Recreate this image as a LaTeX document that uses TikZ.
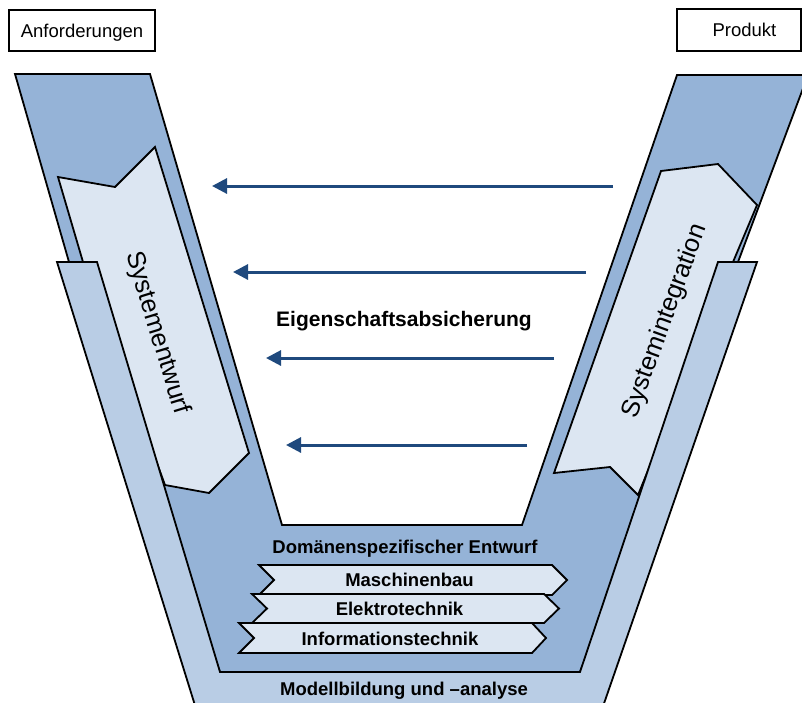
\documentclass[tikz,border=0pt]{standalone}
\usepackage{fontspec}
\setmainfont{Liberation Sans}
\usetikzlibrary{arrows.meta}
\definecolor{bandmid}{HTML}{95B3D7}
\definecolor{bandouter}{HTML}{B9CDE5}
\definecolor{boxpale}{HTML}{DCE6F2}
\definecolor{flowblue}{HTML}{1F497D}
\begin{document}
\begin{tikzpicture}[x=1pt,y=-1pt,
  outline/.style={draw=black,line width=1.8pt,line join=miter},
  labelbox/.style={draw=black,line width=1.8pt,fill=white,inner sep=0pt,
    text height=13.3pt,text depth=0.3pt,font=\fontsize{18.5}{22}\selectfont},
  domaintext/.style={anchor=base,inner sep=0pt,font=\fontsize{18.5}{22}\selectfont\bfseries},
  phasetext/.style={inner sep=0pt,font=\fontsize{25.5}{30}\selectfont},
  checkarrow/.style={draw=flowblue,line width=3pt,-{Triangle[length=15pt,width=15pt]}}]
\useasboundingbox (0,0) rectangle (802,702);
\begin{scope}
\clip (0,0) rectangle (802,702);
% middle V band
\filldraw[fill=bandmid,outline] (15,74) -- (150,74) -- (282,525) -- (522,525)
  -- (677,75) -- (808,75) -- (738,262) -- (580,672) -- (220,672) -- (69,262) -- cycle;
% design phase (left arm)
\filldraw[fill=boxpale,outline] (58,177) -- (115,187) -- (155,147) -- (249,453)
  -- (209,493) -- (165,485) -- (83,262) -- cycle;
% integration phase (right arm)
\filldraw[fill=boxpale,outline] (661,171) -- (718,164) -- (757,205) -- (733,262)
  -- (638,495) -- (610,467) -- (554,473) -- cycle;
% outer V band
\filldraw[fill=bandouter,outline] (57,262) -- (97,262) -- (220,672) -- (580,672)
  -- (718,262) -- (757,262) -- (600,715) -- (198,715) -- cycle;
\end{scope}

% domain bars
\filldraw[fill=boxpale,outline] (259,565) -- (552,565) -- (567,580) -- (552,595)
  -- (259,595) -- (274,580) -- cycle;
\filldraw[fill=boxpale,outline] (252,594) -- (544,594) -- (559,608.5) -- (544,623)
  -- (252,623) -- (267,608.5) -- cycle;
\filldraw[fill=boxpale,outline] (239,623) -- (532,623) -- (546,638) -- (532,653)
  -- (239,653) -- (254,638) -- cycle;

% texts
\node[labelbox,minimum width=146pt,minimum height=41pt] (req) at (82,30.5) {Anforderungen};
\node[labelbox,minimum width=124pt,minimum height=42pt] (prod) at (739,30) {\hspace*{11pt}Produkt};
\node[phasetext,rotate=-73] (design) at (157,333) {Systementwurf};
\node[phasetext,rotate=70] (integ) at (665,321) {Systemintegration};
\node[anchor=base,inner sep=0pt,font=\fontsize{21}{25}\selectfont\bfseries] (verif) at (404,326) {Eigenschaftsabsicherung};
\node[domaintext] (dom) at (405,553) {Domänenspezifischer Entwurf};
\node[domaintext] (mech) at (409.5,586) {Maschinenbau};
\node[domaintext] (elec) at (399.5,615) {Elektrotechnik};
\node[domaintext] (info) at (390,645) {Informationstechnik};
\node[domaintext] (model) at (404,695) {Modellbildung und –analyse};

% property assurance arrows
\coordinate (r1) at (613,186); \coordinate (l1) at (212,186);
\coordinate (r2) at (586,272); \coordinate (l2) at (233,272);
\coordinate (r3) at (554,358); \coordinate (l3) at (266,358);
\coordinate (r4) at (527,445); \coordinate (l4) at (286,445);
\draw[checkarrow] (r1) -- (l1);
\draw[checkarrow] (r2) -- (l2);
\draw[checkarrow] (r3) -- (l3);
\draw[checkarrow] (r4) -- (l4);
\end{tikzpicture}
\end{document}
